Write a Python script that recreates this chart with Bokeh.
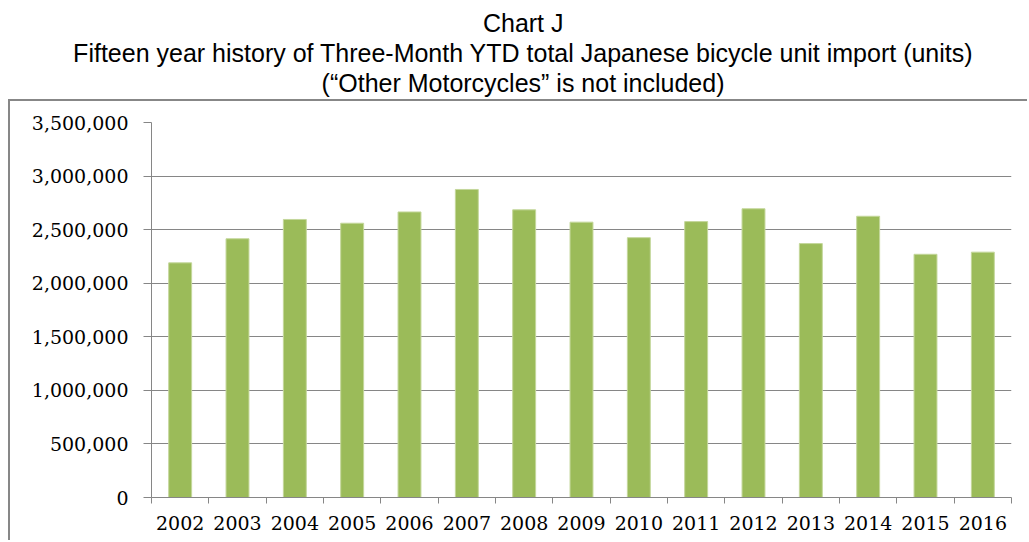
from bokeh.plotting import figure
from bokeh.models import Range1d, FixedTicker, NumeralTickFormatter, Title, InlineStyleSheet
from bokeh.embed import file_html
from bokeh.resources import INLINE

years = ["2002", "2003", "2004", "2005", "2006", "2007", "2008", "2009",
         "2010", "2011", "2012", "2013", "2014", "2015", "2016"]
units = [2190000, 2415000, 2595000, 2560000, 2665000, 2875000, 2685000, 2570000,
         2425000, 2575000, 2695000, 2370000, 2625000, 2270000, 2290000]
y_ticks = [0, 500000, 1000000, 1500000, 2000000, 2500000, 3000000, 3500000]
title_lines = [
    "Chart J",
    "Fifteen year history of Three-Month YTD total Japanese bicycle unit import (units)",
    "(\u201cOther Motorcycles\u201d is not included)",
]

W, H = 1027, 540
GRID = "#868686"
BAR = "#9BBB59"

p = figure(width=W, height=H, output_backend="svg", toolbar_location=None,
           x_range=Range1d(0, len(years)), y_range=Range1d(0, y_ticks[-1]),
           min_border_left=151, min_border_right=W - 1011, min_border_top=122,
           min_border_bottom=H - 497, title=None)

xs = [i + 0.5 for i in range(len(years))]
p.vbar(x=xs, top=units, width=0.4, fill_color=BAR, line_color="#C4D79B", line_width=1)

# x axis: labels at category centres, ticks at category boundaries
xa = p.xaxis[0]
xa.ticker = FixedTicker(ticks=xs, minor_ticks=list(range(len(years) + 1)))
xa.major_label_overrides = {x: y for x, y in zip(xs, years)}
xa.major_tick_out = 0
xa.major_tick_in = 0
xa.minor_tick_out = 6
xa.minor_tick_in = 0
xa.minor_tick_line_color = GRID
xa.axis_line_color = GRID
xa.major_label_text_font = "DejaVu Serif"
xa.major_label_text_font_size = "19px"
xa.major_label_text_color = "#000000"
xa.major_label_standoff = 12

ya = p.yaxis[0]
ya.ticker = FixedTicker(ticks=y_ticks)
ya.formatter = NumeralTickFormatter(format="0,0")
ya.major_tick_out = 8
ya.major_tick_in = 0
ya.minor_tick_out = 0
ya.minor_tick_in = 0
ya.axis_line_color = GRID
ya.major_tick_line_color = GRID
ya.major_label_text_font = "DejaVu Serif"
ya.major_label_text_font_size = "19px"
ya.major_label_text_color = "#000000"
ya.major_label_standoff = 15

p.xgrid.visible = False
p.ygrid.grid_line_color = GRID
p.ygrid.grid_line_width = 1
p.outline_line_color = None

# outer chart-area border (top and left edges visible in the reference)
p.stylesheets = [InlineStyleSheet(css=(
    ":host { position: relative; }"
    ":host::after { content: ''; position: absolute; left: 8px; top: 99px;"
    " width: %dpx; height: %dpx; border-top: 2px solid #878787;"
    " border-left: 2px solid #878787; box-sizing: border-box;"
    " pointer-events: none; }" % (W - 8, H - 99)))]

# three title lines, centred at x~523 (right-aligned with offsets from frame edge)
offsets = [448, 38, 287]
paddings = [0, 0, 26]
for text, off, pad in reversed(list(zip(title_lines, offsets, paddings))):
    p.add_layout(Title(text=text, align="right", offset=off,
                       text_font="Liberation Sans", text_font_size="25px",
                       text_font_style="normal", text_color="#000000",
                       standoff=0, padding=dict(left=0, right=0, top=0, bottom=pad)),
                 "above")

open("out.html", "w").write(file_html(p, INLINE))
